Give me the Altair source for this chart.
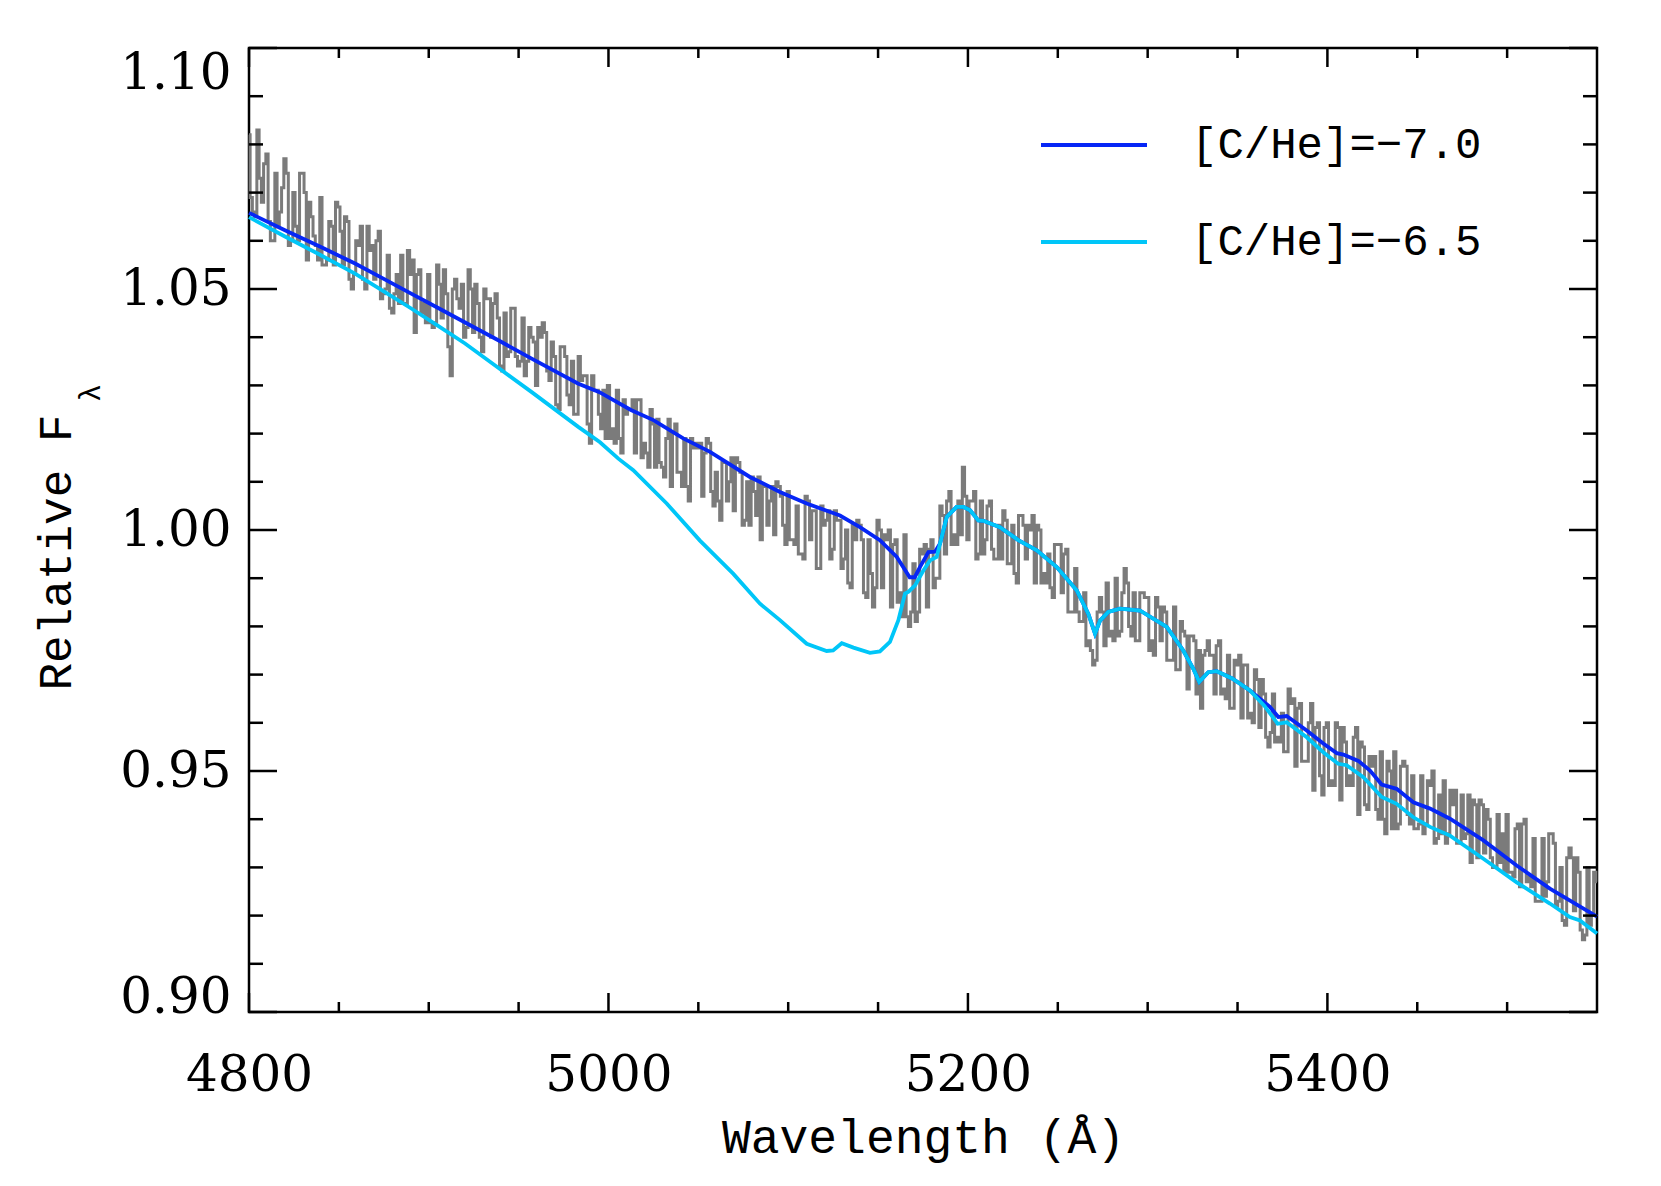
import altair as alt
import pandas as pd

W, H = 1348, 964

# ---------------- data ----------------
spec_start = 4800.0
spec_step = 1.25
# observed spectrum, relative flux in thousandths.
# spec_a: samples at 4800.00, 4802.50, ... ; spec_b: samples at 4801.25, 4803.75, ...
spec_a_milli = [
    1082, 1066, 1083, 1068, 1078, 1060, 1074, 1066, 1077, 1059, 1070, 1060, 1074, 1056, 1065, 1059, 1069, 1055, 1064, 1055,
    1067, 1055, 1064, 1050, 1060, 1063, 1050, 1058, 1052, 1062, 1049, 1057, 1045, 1053, 1057, 1047, 1053, 1041, 1054, 1047,
    1053, 1042, 1055, 1044, 1049, 1032, 1052, 1046, 1040, 1054, 1041, 1047, 1037, 1048, 1040, 1049, 1034, 1045, 1037, 1046,
    1034, 1044, 1035, 1040, 1030, 1040, 1041, 1031, 1036, 1025, 1038, 1028, 1035, 1024, 1031, 1032, 1018, 1029, 1024, 1029,
    1030, 1021, 1029, 1016, 1024, 1025, 1016, 1027, 1018, 1013, 1022, 1023, 1013, 1019, 1009, 1022, 1012, 1019, 1006, 1017,
    1017, 1007, 1019, 1008, 1012, 1002, 1014, 1010, 1004, 1014, 1001, 1010, 1011, 1003, 998, 1009, 1006, 999, 1009, 1001,
    1008, 998, 1005, 995, 1007, 998, 1004, 992, 1001, 1004, 996, 1002, 992, 1000, 988, 998, 1001, 987, 998, 984,
    1002, 988, 998, 984, 998, 987, 999, 980, 993, 983, 995, 984, 998, 990, 1005, 995, 1008, 999, 1006, 1013,
    998, 1006, 994, 1006, 998, 1006, 994, 1001, 1004, 993, 1001, 989, 1003, 994, 1000, 989, 1000, 991, 995, 986,
    997, 987, 996, 983, 992, 981, 987, 977, 972, 983, 983, 989, 979, 990, 979, 992, 980, 987, 977, 987,
    986, 977, 986, 977, 983, 973, 984, 971, 979, 967, 978, 966, 963, 975, 974, 966, 977, 967, 974, 963,
    972, 961, 972, 962, 971, 959, 966, 955, 966, 957, 962, 954, 964, 951, 964, 952, 960, 946, 960, 945,
    960, 948, 960, 944, 956, 949, 957, 941, 955, 942, 951, 942, 954, 937, 950, 954, 939, 952, 941, 949,
    938, 949, 939, 947, 935, 945, 948, 937, 943, 935, 945, 937, 931, 943, 944, 933, 940, 930, 941, 937,
    941, 929, 938, 926, 940, 928, 936, 923, 936, 927, 937, 922, 930, 918, 934, 921, 929, 915, 930, 920,
    927,
]
spec_b_milli = [
    1069, 1065, 1073, 1076, 1064, 1060, 1063, 1071, 1074, 1060, 1063, 1074, 1070, 1068, 1061, 1056, 1055, 1056, 1063, 1068,
    1062, 1065, 1052, 1053, 1059, 1052, 1063, 1059, 1060, 1048, 1050, 1046, 1049, 1047, 1047, 1058, 1056, 1053, 1045, 1043,
    1043, 1043, 1051, 1054, 1038, 1050, 1048, 1051, 1042, 1050, 1051, 1040, 1050, 1048, 1047, 1044, 1033, 1036, 1046, 1036,
    1035, 1032, 1042, 1039, 1042, 1043, 1033, 1039, 1026, 1038, 1036, 1026, 1024, 1036, 1032, 1022, 1032, 1029, 1021, 1019,
    1019, 1018, 1019, 1027, 1025, 1027, 1027, 1015, 1016, 1025, 1013, 1014, 1011, 1023, 1020, 1012, 1009, 1009, 1019, 1018,
    1018, 1016, 1018, 1005, 1006, 1014, 1006, 1015, 1015, 1012, 1002, 1001, 1008, 1011, 1009, 1001, 1009, 1010, 1007, 997,
    998, 997, 995, 994, 1006, 1004, 992, 1005, 1002, 994, 1004, 1002, 994, 989, 1001, 1002, 998, 986, 991, 988,
    1000, 999, 1000, 997, 985, 982, 982, 983, 981, 996, 997, 996, 988, 990, 1003, 1006, 997, 997, 999, 1007,
    1006, 1008, 995, 995, 1005, 996, 994, 994, 1002, 993, 991, 1003, 1001, 1001, 1003, 1001, 989, 989, 988, 997,
    997, 995, 983, 983, 983, 981, 976, 975, 973, 986, 976, 978, 977, 978, 987, 989, 978, 977, 987, 986,
    975, 974, 984, 984, 973, 973, 971, 981, 978, 978, 977, 975, 974, 977, 974, 976, 966, 965, 963, 973,
    974, 972, 961, 960, 969, 969, 957, 958, 956, 956, 954, 967, 965, 963, 952, 952, 964, 959, 949, 959,
    947, 947, 959, 959, 947, 947, 959, 956, 943, 953, 953, 940, 940, 952, 938, 938, 951, 951, 939, 938,
    939, 937, 948, 950, 936, 937, 935, 946, 946, 935, 936, 945, 944, 932, 943, 942, 932, 930, 931, 929,
    929, 928, 939, 939, 927, 926, 923, 923, 924, 937, 935, 923, 919, 932, 932, 932, 917, 916, 918, 929,
]

# model [C/He]=-7.0, blue part before it joins the other model
blue_head_wave = [4800, 4820, 4840, 4859, 4875, 4890.5, 4905, 4920, 4940, 4957, 4983, 4995,
                  5012.5, 5025, 5041.6, 5056.5, 5078.7, 5095.4, 5110.3, 5128.8, 5139.9, 5151,
                  5160.4, 5167.6, 5170.4, 5173.3, 5178, 5181.7]
blue_head_flux = [1.0658, 1.0622, 1.0587, 1.0553, 1.0521, 1.0490, 1.0461, 1.0431, 1.0391, 1.0356, 1.0304, 1.0286,
                  1.0249, 1.0228, 1.0190, 1.0162, 1.0110, 1.0079, 1.0055, 1.0030, 1.0006, 0.9979,
                  0.9944, 0.9902, 0.9902, 0.9923, 0.9954, 0.9955]

# model [C/He]=-6.5, cyan part before it joins the other model
cyan_head_wave = [4800, 4820, 4840, 4859, 4875, 4890.5, 4905, 4920.2, 4940, 4957.3, 4983.2, 4995.3,
                  5005.5, 5013.8, 5032.4, 5050.9, 5069.5, 5084.3, 5095.4, 5110.3, 5121.4, 5125,
                  5129.8, 5136.3, 5145.5, 5151, 5156.6, 5161.3, 5165, 5167, 5170.6, 5175.2, 5178.9, 5182.6]
cyan_head_flux = [1.0649, 1.0609, 1.0570, 1.0532, 1.0495, 1.0459, 1.0424, 1.0387, 1.0333, 1.0286, 1.0214, 1.0182,
                  1.0148, 1.0124, 1.0055, 0.9978, 0.9909, 0.9847, 0.9813, 0.9764, 0.9749, 0.9750,
                  0.9765, 0.9756, 0.9745, 0.9748, 0.9768, 0.9813, 0.9868, 0.9872, 0.9885, 0.9916, 0.9937, 0.9944]

# part where both models coincide
shared_wave = [5184.5, 5188.2, 5193.7, 5197.4, 5201.2, 5205.8, 5208.6, 5217.8, 5228, 5238.3, 5249.4,
               5260.5, 5267, 5270.7, 5273.5, 5278.1, 5284.6, 5295.7, 5310.6, 5319.8, 5325.4, 5328.7,
               5333.7, 5338.4, 5347, 5356.9]
shared_flux = [0.9972, 1.0027, 1.0048, 1.0048, 1.0041, 1.0020, 1.0019, 1.0006, 0.9979, 0.9958, 0.9923,
               0.9875, 0.9826, 0.9785, 0.9812, 0.9830, 0.9837, 0.9833, 0.9799, 0.9750, 0.9712, 0.9685,
               0.9705, 0.9707, 0.9692, 0.9667]

blue_tail_wave = [5368, 5372.7, 5377.3, 5388.5, 5397.7, 5405.2, 5408.9, 5417.2, 5423.7, 5430.2, 5438.5,
                  5447.8, 5457.1, 5468.2, 5486.8, 5505.3, 5523.8, 5550]
blue_tail_flux = [0.9633, 0.9612, 0.9614, 0.9584, 0.9557, 0.9537, 0.9534, 0.9521, 0.9501, 0.9472, 0.9463,
                  0.9435, 0.9422, 0.9401, 0.9356, 0.9304, 0.9256, 0.9198]

cyan_tail_wave = [5365, 5372.3, 5377.3, 5388.5, 5397.7, 5406, 5410.7, 5420, 5430.2, 5438.5, 5447.8,
                  5457.1, 5468.2, 5486.8, 5505.3, 5523.8, 5534.9, 5540.5, 5550]
cyan_tail_flux = [0.9635, 0.9598, 0.9601, 0.9570, 0.9539, 0.9515, 0.9512, 0.9487, 0.9446, 0.9432, 0.9404,
                  0.9384, 0.9366, 0.9318, 0.9269, 0.9225, 0.9197, 0.9190, 0.9163]

legend_labels = ["[C/He]=\u22127.0", "[C/He]=\u22126.5"]
legend_colors = ["#0626f6", "#00c6f8"]
spec_color = "#7b7b7b"

x_major = [4800, 5000, 5200, 5400]
x_minor = [4850, 4900, 4950, 5050, 5100, 5150, 5250, 5300, 5350, 5450, 5500]
y_major = [0.90, 0.95, 1.00, 1.05, 1.10]
y_minor = [0.91, 0.92, 0.93, 0.94, 0.96, 0.97, 0.98, 0.99, 1.01, 1.02, 1.03, 1.04,
           1.06, 1.07, 1.08, 1.09]

# ---------------- tables ----------------
spec_flux_milli = []
for a, b in zip(spec_a_milli, spec_b_milli):
    spec_flux_milli += [a, b]
spec_flux_milli += spec_a_milli[len(spec_b_milli):]

spec_df = pd.DataFrame({
    "wave": [spec_start + spec_step * i for i in range(len(spec_flux_milli))],
    "flux": [v / 1000.0 for v in spec_flux_milli],
})
blue_df = pd.DataFrame({"wave": blue_head_wave + shared_wave + blue_tail_wave,
                        "flux": blue_head_flux + shared_flux + blue_tail_flux})
cyan_df = pd.DataFrame({"wave": cyan_head_wave + shared_wave + cyan_tail_wave,
                        "flux": cyan_head_flux + shared_flux + cyan_tail_flux})

xscale = alt.Scale(domain=[4800, 5550], nice=False, zero=False)
yscale = alt.Scale(domain=[0.90, 1.10], nice=False, zero=False)

TITLE_FONT = "Liberation Mono"
LABEL_FONT = "DejaVu Serif"

xaxis = alt.Axis(values=x_major, format="d", labelFont=LABEL_FONT, labelFontSize=50,
                 labelColor="black", labelPadding=38, ticks=False, tickSize=0, domain=False,
                 grid=False, labelFlush=False, labelOverlap=False,
                 title="Wavelength (\u00c5)", titleFont=TITLE_FONT, titleFontWeight="normal",
                 titleFontSize=48, titleColor="black", titleY=140, titleBaseline="alphabetic")
yaxis = alt.Axis(values=y_major, format=".2f", labelFont=LABEL_FONT, labelFontSize=50,
                 labelColor="black", labelPadding=18, ticks=False, tickSize=0, domain=False,
                 grid=False, labelFlush=False, labelOverlap=False,
                 labelBaseline={"condition": [
                     {"test": "datum.value < 0.91", "value": "alphabetic"},
                     {"test": "datum.value > 1.09", "value": "top"}],
                     "value": "middle"},
                 title="Relative F", titleFont=TITLE_FONT, titleFontWeight="normal",
                 titleFontSize=46, titleColor="black", titleX=-193, titleY=504, titleAngle=270,
                 titleBaseline="middle", titleAlign="center")

X = alt.X("wave:Q", scale=xscale, axis=xaxis)
Y = alt.Y("flux:Q", scale=yscale, axis=yaxis)

spec = alt.Chart(spec_df).mark_line(color=spec_color, strokeWidth=3.0, interpolate="step").encode(x=X, y=Y)
blue = alt.Chart(blue_df).mark_line(color=legend_colors[0], strokeWidth=3.8).encode(x=X, y=Y)
cyan = alt.Chart(cyan_df).mark_line(color=legend_colors[1], strokeWidth=3.8).encode(x=X, y=Y)

tw = 2.5
ymaj_df = pd.DataFrame({"flux": y_major})
ymin_df = pd.DataFrame({"flux": y_minor})
xmaj_df = pd.DataFrame({"wave": x_major})
xmin_df = pd.DataFrame({"wave": x_minor})

ticks = [
    alt.Chart(ymaj_df).mark_rule(color="black", strokeWidth=tw).encode(y=Y, x=alt.value(0), x2=alt.value(28)),
    alt.Chart(ymin_df).mark_rule(color="black", strokeWidth=tw).encode(y=Y, x=alt.value(0), x2=alt.value(14)),
    alt.Chart(ymaj_df).mark_rule(color="black", strokeWidth=tw).encode(y=Y, x=alt.value(W), x2=alt.value(W - 28)),
    alt.Chart(ymin_df).mark_rule(color="black", strokeWidth=tw).encode(y=Y, x=alt.value(W), x2=alt.value(W - 14)),
    alt.Chart(xmaj_df).mark_rule(color="black", strokeWidth=tw).encode(x=X, y=alt.value(H), y2=alt.value(H - 19)),
    alt.Chart(xmin_df).mark_rule(color="black", strokeWidth=tw).encode(x=X, y=alt.value(H), y2=alt.value(H - 10)),
    alt.Chart(xmaj_df).mark_rule(color="black", strokeWidth=tw).encode(x=X, y=alt.value(0), y2=alt.value(19)),
    alt.Chart(xmin_df).mark_rule(color="black", strokeWidth=tw).encode(x=X, y=alt.value(0), y2=alt.value(10)),
]

one = pd.DataFrame({"k": [0]})
legend_layers = []
legend_y = [97, 194]
for lab, col, ly in zip(legend_labels, legend_colors, legend_y):
    legend_layers.append(
        alt.Chart(one).mark_rule(color=col, strokeWidth=3.8).encode(
            x=alt.value(792), x2=alt.value(898), y=alt.value(ly)))
    legend_layers.append(
        alt.Chart(one).mark_text(text=lab, font=TITLE_FONT, fontWeight="normal", fontSize=44,
                                 align="left", baseline="middle", color="black").encode(
            x=alt.value(942), y=alt.value(ly)))

lam = alt.Chart(one).mark_text(text="\u03bb", font=TITLE_FONT, fontWeight="normal", fontSize=30,
                               angle=270, align="center", baseline="middle", color="black").encode(
    x=alt.value(-158), y=alt.value(345))

chart = alt.layer(spec, blue, cyan, *ticks, *legend_layers, lam).properties(
    width=W, height=H,
    autosize=alt.AutoSizeParams(type="none"),
    padding={"left": 241, "top": 40, "right": 56, "bottom": 166},
).configure_view(stroke="black", strokeWidth=2.5)

chart.save("out.html", embed_options={"renderer": "svg", "actions": False})
